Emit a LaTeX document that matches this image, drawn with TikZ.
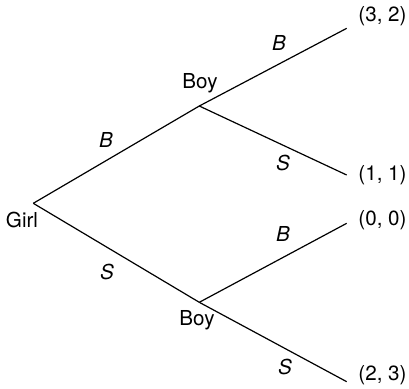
\documentclass[tikz,border=0pt]{standalone}
\usepackage{fontspec}
\setmainfont{TeX Gyre Heros}
\usepackage{tikz}

\begin{document}
\begin{tikzpicture}[x=0.5pt,y=-0.5pt,line width=0.6pt,
		every node/.style={inner sep=0pt,font=\fontsize{10.3}{12}\selectfont}]
				\useasboundingbox (0,0) rectangle (409,388);
				\coordinate (0) at (33.3, 203.3);
				\coordinate (1) at (199.3, 106);
				\coordinate (2) at (199.3, 302.3);
				\coordinate (3) at (346.7, 28.3);
				\coordinate (4) at (346.7, 175);
				\coordinate (5) at (346.7, 223.3);
				\coordinate (6) at (346.7, 381.7);
				\node (g) at (22, 220) {Girl};
				\node (b1) at (200, 83) {Boy};
				\node (b2) at (197, 320) {Boy};
				\node (p3) at (382.5, 16) {(3, 2)};
				\node (p4) at (382.5, 175) {(1, 1)};
				\node (p5) at (382.5, 220) {(0, 0)};
				\node (p6) at (382.5, 375) {(2, 3)};
				\node (e1) at (106, 140) {\textit{B}};
				\node (e2) at (107, 272) {\textit{S}};
				\node (e3) at (279, 43) {\textit{B}};
				\node (e4) at (283, 163) {\textit{S}};
				\node (e5) at (283, 234) {\textit{B}};
				\node (e6) at (285, 367) {\textit{S}};
				\draw (0) to (1);
				\draw (0) to (2);
				\draw (1) to (3);
				\draw (1) to (4);
				\draw (2) to (5);
				\draw (2) to (6);
		\end{tikzpicture}
\end{document}
